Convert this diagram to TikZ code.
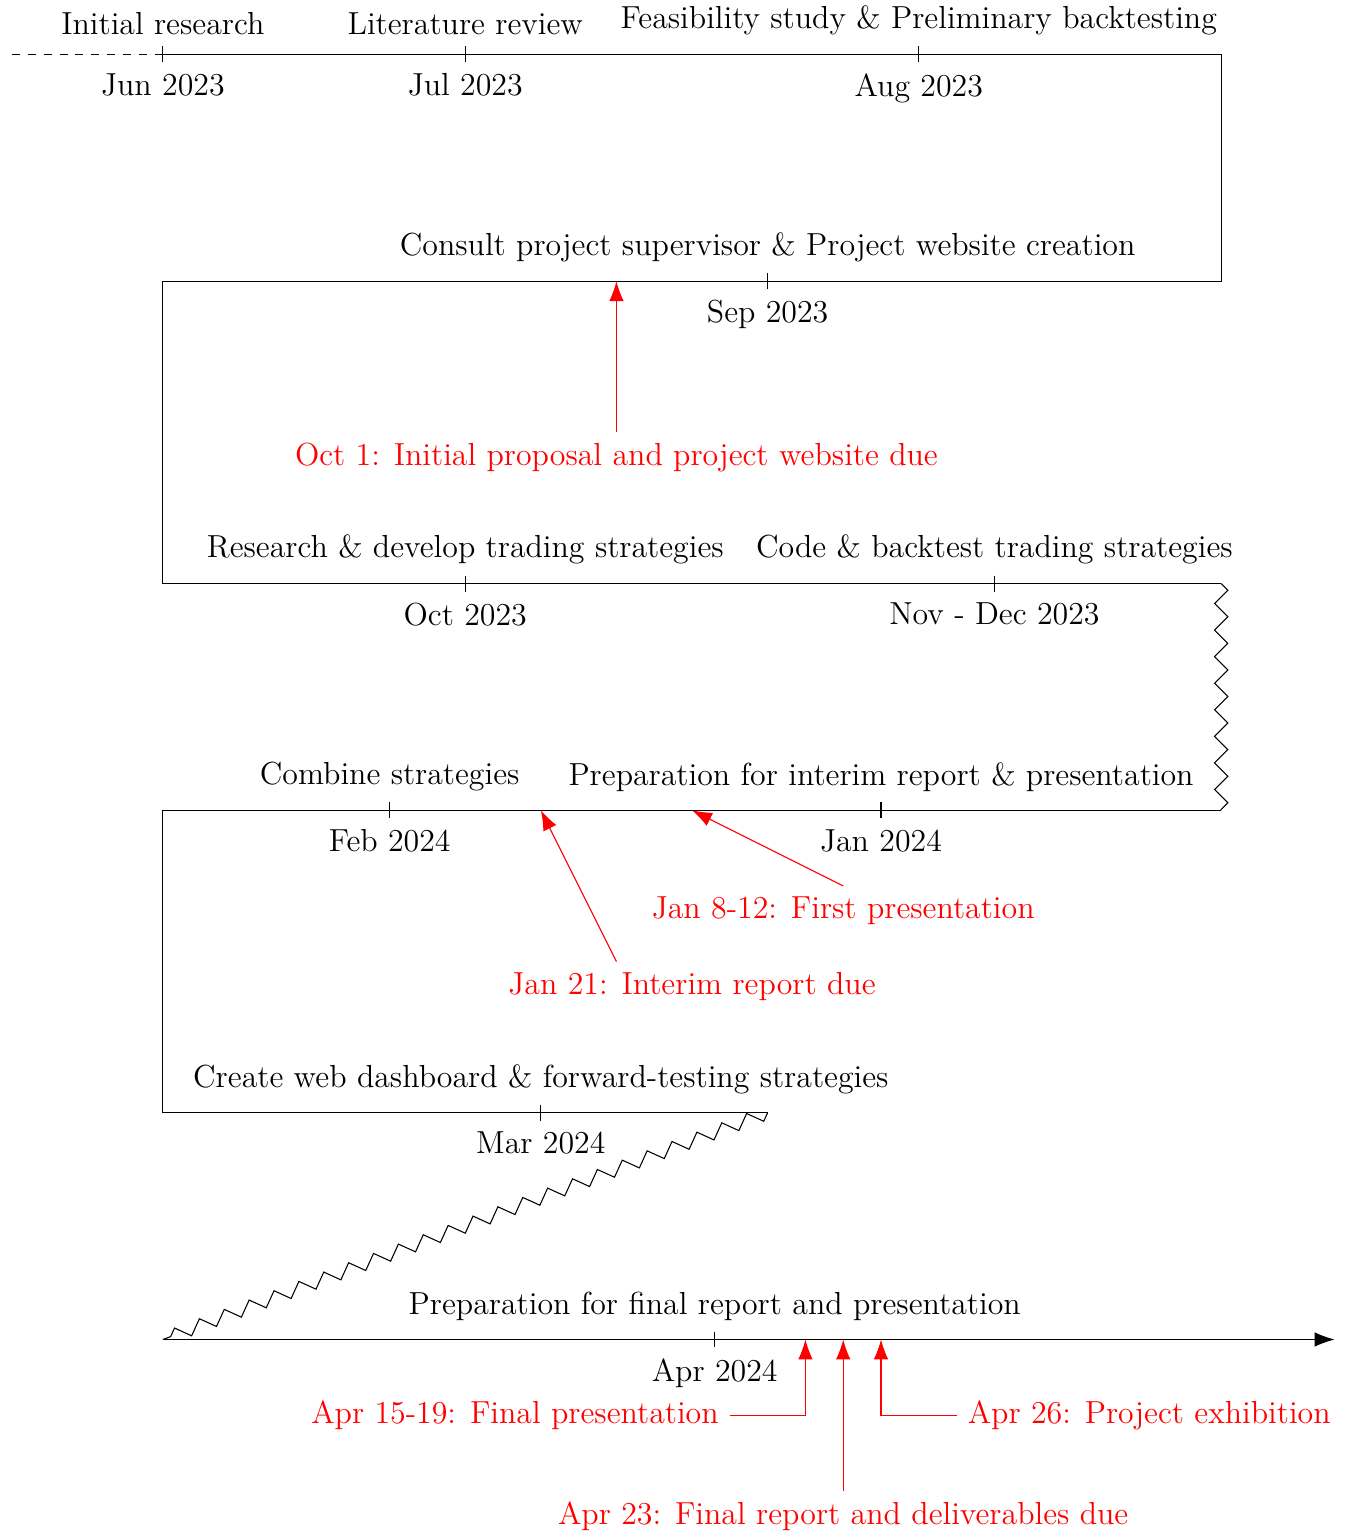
\documentclass[tikz,border=0pt,12pt]{standalone}
\usepackage{amsmath}
\usepackage{tikz}
\usetikzlibrary{calc}
\usetikzlibrary{arrows.meta}
\usetikzlibrary{decorations.pathmorphing}

\begin{document}
\begin{tikzpicture}[>={Latex[length=7.5pt,width=5.5pt]},
    due/.style={red},
    snake/.style={decorate,decoration={zigzag}}]
    \useasboundingbox (-2.155,0.72) rectangle (15.70,-19.56);
    % the timeline, row by row
    \draw[dashed] (-2,0) -- (0,0);
    \draw (0,0) -- (14,0) -- (14,-3) -- (0,-3) -- (0,-7) -- (14,-7);
    \draw[snake] (14,-7) -- (14,-10);
    \draw (14,-10) -- (0,-10) -- (0,-14) -- (8,-14);
    \draw[snake] (8,-14) -- (0,-17);
    \draw[->] (0,-17) -- (15.5,-17);
    % ticks
    \draw (0,3pt) node[above] (research) {Initial research} -- (0,-3pt) node[below] (jun) {Jun 2023};
    \draw (4,3pt) node[above] (review) {Literature review} -- (4,-3pt) node[below] (jul) {Jul 2023};
    \draw (10,3pt) node[above] (feasible) {Feasibility study \& Preliminary backtesting} -- (10,-3pt) node[below] (aug) {Aug 2023};
    \draw ($(8,-3)+(0,3pt)$) node[above] (consult) {Consult project supervisor \& Project website creation} -- ($(8,-3)+(0,-3pt)$) node[below] (sep) {Sep 2023};
    \draw ($(4,-7)+(0,3pt)$) node[above] (develop) {Research \& develop trading strategies} -- ($(4,-7)+(0,-3pt)$) node[below] (oct) {Oct 2023};
    \draw ($(11,-7)+(0,3pt)$) node[above] (backtest) {Code \& backtest trading strategies} -- ($(11,-7)+(0,-3pt)$) node[below] (novdec) {Nov - Dec 2023};
    \draw ($(9.5,-10)+(0,3pt)$) node[above] (interimprep) {Preparation for interim report \& presentation} -- ($(9.5,-10)+(0,-3pt)$) node[below] (jan) {Jan 2024};
    \draw ($(3,-10)+(0,3pt)$) node[above] (combine) {Combine strategies} -- ($(3,-10)+(0,-3pt)$) node[below] (feb) {Feb 2024};
    \draw ($(5,-14)+(0,3pt)$) node[above] (dashboard) {Create web dashboard \& forward-testing strategies} -- ($(5,-14)+(0,-3pt)$) node[below] (mar) {Mar 2024};
    \draw ($(7.3,-17)+(0,3pt)$) node[above] (finalprep) {Preparation for final report and presentation} -- ($(7.3,-17)+(0,-3pt)$) node[below] (apr) {Apr 2024};
    % deadlines
    \coordinate (proposaltip) at (6,-3); \coordinate (firstprestip) at (7,-10); \coordinate (interimtip) at (5,-10);
    \coordinate (finalprestip) at (8.5,-17); \coordinate (reporttip) at (9,-17); \coordinate (exhibittip) at (9.5,-17);
    \node[due,below] (proposal) at (6,-5) {Oct 1: Initial proposal and project website due};
    \node[due,below] (firstpres) at (9,-11) {Jan 8-12: First presentation};
    \node[due,below] (interim) at (7,-12) {Jan 21: Interim report due};
    \node[due,left] (finalpres) at (7.5,-18) {Apr 15-19: Final presentation};
    \node[due,below] (report) at (9,-19) {Apr 23: Final report and deliverables due};
    \node[due,right] (exhibit) at (10.5,-18) {Apr 26: Project exhibition};
    \draw[due,->] (proposal.north) -- (proposaltip);
    \draw[due,->] (firstpres.north) -- (firstprestip);
    \draw[due,->] ([xshift=-1cm]interim.north) -- (interimtip);
    \draw[due,->] (finalpres.east) -| (finalprestip);
    \draw[due,->] (report.north) -- (reporttip);
    \draw[due,->] (exhibit.west) -| (exhibittip);
\end{tikzpicture}
\end{document}
